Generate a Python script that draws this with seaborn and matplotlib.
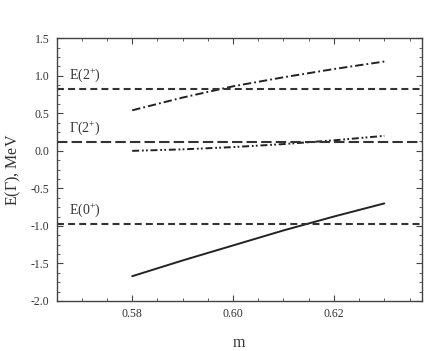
import matplotlib
matplotlib.use('Agg')
import matplotlib.pyplot as plt
from matplotlib.ticker import MultipleLocator
import seaborn as sns
import pandas as pd

# values
m = [0.58, 0.59, 0.60, 0.61, 0.62, 0.63]
e0_curve = [-1.67, -1.46, -1.26, -1.06, -0.875, -0.70]
e2_curve = [0.54, 0.71, 0.86, 0.98, 1.09, 1.19]
g2_curve = [0.0, 0.02, 0.05, 0.09, 0.14, 0.20]

# horizontal reference levels
e2_level = 0.82
g2_level = 0.12
e0_level = -0.98
level_labels = ['E(2$^{+}$)', '$\\Gamma$(2$^{+}$)', 'E(0$^{+}$)']

x_ticks = [0.58, 0.60, 0.62]
y_ticks = [1.5, 1.0, 0.5, 0.0, -0.5, -1.0, -1.5, -2.0]

df = pd.DataFrame({'m': m, 'e0': e0_curve, 'e2': e2_curve, 'g2': g2_curve})

sns.set_style('ticks')
plt.rcParams['font.family'] = ['Liberation Serif', 'DejaVu Serif']
plt.rcParams['mathtext.fontset'] = 'custom'
plt.rcParams['mathtext.rm'] = 'Liberation Serif'
plt.rcParams['mathtext.it'] = 'Liberation Serif:italic'
plt.rcParams['lines.scale_dashes'] = False

fig = plt.figure(figsize=(4.42, 3.51), dpi=100)
ax = fig.add_axes([0.128, 0.1425, 0.827, 0.7485])

line_col = '#222222'

# curves
sns.lineplot(data=df, x='m', y='e0', ax=ax, color=line_col, lw=1.4, linestyle='-')
sns.lineplot(data=df, x='m', y='e2', ax=ax, color=line_col, lw=1.4,
             linestyle=(0, (6, 2.2, 1.3, 2.2)))
sns.lineplot(data=df, x='m', y='g2', ax=ax, color=line_col, lw=1.4,
             linestyle=(0, (5, 2, 1.3, 1.6, 1.3, 2)))

# horizontal levels
ax.axhline(e2_level, color='#333333', lw=1.5, linestyle=(0, (5, 3)))
ax.axhline(g2_level, color='#333333', lw=1.5, linestyle=(0, (7.5, 3)))
ax.axhline(e0_level, color='#333333', lw=1.5, linestyle=(0, (5, 3)))

for lvl, lab in zip([e2_level, g2_level, e0_level], level_labels):
    ax.text(0.5675, lvl + 0.07, lab, fontsize=10, color='#333333',
            ha='left', va='bottom')

ax.set_xlim(0.565, 0.6375)
ax.set_ylim(-2.0, 1.5)
ax.set_xticks(x_ticks)
ax.set_yticks(y_ticks)
ax.set_xticklabels([f'{v:.2f}' for v in x_ticks])
ax.set_yticklabels([f'{v:.1f}' for v in y_ticks])
ax.xaxis.set_minor_locator(MultipleLocator(0.005))
ax.yaxis.set_minor_locator(MultipleLocator(0.125))
ax.tick_params(which='both', direction='in', top=True, right=True,
               color='#444444', labelsize=8.5, labelcolor='#333333')
ax.tick_params(which='major', length=4, width=0.8, pad=5)
ax.tick_params(which='minor', length=2, width=0.6)
for sp in ax.spines.values():
    sp.set_color('#444444')
    sp.set_linewidth(1.0)

ax.set_xlabel('m', fontsize=11.5, color='#333333', labelpad=11)
ax.set_ylabel('E($\\Gamma$), MeV', fontsize=11.5, color='#333333', labelpad=6)

fig.savefig('out.png', dpi=100)
